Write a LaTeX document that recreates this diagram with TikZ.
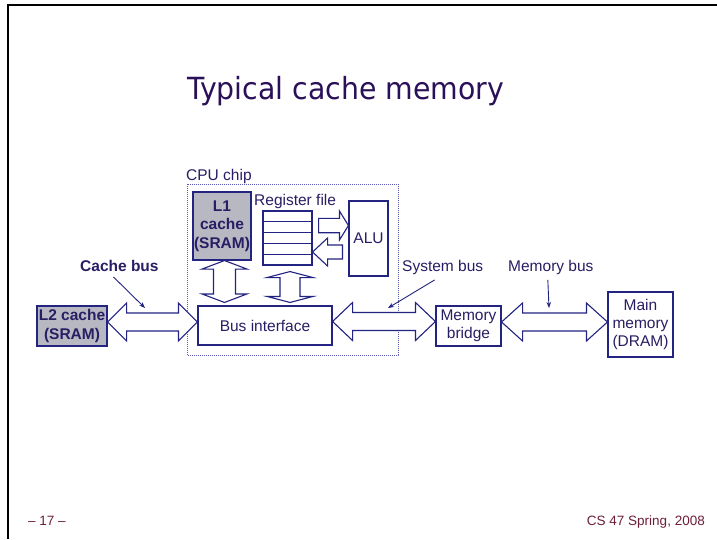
\documentclass[tikz,border=0pt]{standalone}
\usepackage{fontspec}
\setmainfont{Liberation Sans}
\newfontfamily\titlefont[FakeStretch=0.93]{DejaVu Sans}
\usetikzlibrary{calc,arrows.meta}

\definecolor{navyline}{RGB}{35,35,130}
\definecolor{navytext}{RGB}{40,30,100}
\definecolor{titlecol}{RGB}{42,16,88}
\definecolor{cachegray}{RGB}{184,184,194}
\definecolor{footcol}{RGB}{110,30,55}
\definecolor{chipdot}{RGB}{90,90,180}

\tikzset{
  unitbox/.style={draw=navyline, line width=1.1pt, fill=white, inner sep=0pt,
    text=navytext, align=center, font=\fontsize{15.5}{18.3}\selectfont},
  graybox/.style={unitbox, fill=cachegray, font=\fontsize{15.5}{18.3}\selectfont\bfseries},
  lbl/.style={inner sep=0pt, text=navytext, font=\fontsize{15.5}{18.3}\selectfont},
  busarrow/.style={draw=navyline, line width=1.1pt, fill=white, line join=miter},
  pointer/.style={draw=navyline, line width=0.9pt, -{Stealth[length=6pt,width=4.5pt]}},
  footer/.style={inner sep=0pt, text=footcol, font=\fontsize{13.5}{16}\selectfont},
}

% horizontal double-headed block arrow: left tip, right tip, shaft half, head half, head length
\newcommand{\hdouble}[5]{%
  \draw[busarrow] let \p1=#1, \p2=#2 in
    (\x1,\y1) -- (\x1+#5,\y1+#4) -- (\x1+#5,\y1+#3) -- (\x2-#5,\y1+#3) -- (\x2-#5,\y1+#4)
    -- (\x2,\y1) -- (\x2-#5,\y1-#4) -- (\x2-#5,\y1-#3) -- (\x1+#5,\y1-#3) -- (\x1+#5,\y1-#4) -- cycle;}
% vertical double-headed block arrow: top tip, bottom tip, shaft half, head half, head length
\newcommand{\vdouble}[5]{%
  \draw[busarrow] let \p1=#1, \p2=#2 in
    (\x1,\y1) -- (\x1+#4,\y1-#5) -- (\x1+#3,\y1-#5) -- (\x1+#3,\y2+#5) -- (\x1+#4,\y2+#5)
    -- (\x1,\y2) -- (\x1-#4,\y2+#5) -- (\x1-#3,\y2+#5) -- (\x1-#3,\y1-#5) -- (\x1-#4,\y1-#5) -- cycle;}
% single block arrow pointing right: tail, tip, shaft half, head half, head length
\newcommand{\harrowright}[5]{%
  \draw[busarrow] let \p1=#1, \p2=#2 in
    (\x1,\y2+#3) -- (\x2-#5,\y2+#3) -- (\x2-#5,\y2+#4) -- (\x2,\y2) -- (\x2-#5,\y2-#4)
    -- (\x2-#5,\y2-#3) -- (\x1,\y2-#3) -- cycle;}
% single block arrow pointing left: tail, tip, shaft half, head half, head length
\newcommand{\harrowleft}[5]{%
  \draw[busarrow] let \p1=#1, \p2=#2 in
    (\x1,\y2+#3) -- (\x2+#5,\y2+#3) -- (\x2+#5,\y2+#4) -- (\x2,\y2) -- (\x2+#5,\y2-#4)
    -- (\x2+#5,\y2-#3) -- (\x1,\y2-#3) -- cycle;}

\begin{document}
\begin{tikzpicture}[x=1pt,y=-1pt]
\useasboundingbox (0,0) rectangle (717,539);
\fill[white] (0,0) rectangle (717,539);

% slide frame
\draw[black, line width=2pt] (7.7,539) -- (7.7,5.3) -- (717,5.3);

% title
\node[anchor=base west, inner sep=0pt, text=titlecol, font=\titlefont\fontsize{30.5}{34}\selectfont]
  (title) at (187,99) {Typical cache memory};

% CPU chip outline
\draw[chipdot, line width=0.8pt, dash pattern=on 0.8pt off 1.2pt] (187,184) rectangle (398,355);
\node[lbl, anchor=base west] (cpulbl) at (186,180) {CPU chip};

% units
\node[graybox, minimum width=58pt, minimum height=68pt] (l1) at (222,226) {L1\\cache\\(SRAM)};
\node[unitbox, minimum width=39pt, minimum height=75pt] (alu) at (368.5,238.5) {ALU};
\node[unitbox, minimum width=49pt, minimum height=54pt] (regs) at (287.5,238) {};
\foreach \k in {1,...,4}
  \draw[navyline, line width=1.1pt] ($(regs.north west)!\k/5!(regs.south west)$) -- ($(regs.north east)!\k/5!(regs.south east)$);
\node[lbl, anchor=base west] (reglbl) at (254,205.7) {Register file};

\node[unitbox, minimum width=134pt, minimum height=39pt] (busif) at (265,325.5) {Bus interface};
\node[graybox, minimum width=70pt, minimum height=40pt] (l2) at (72,326) {L2 cache\\(SRAM)};
\node[unitbox, minimum width=65pt, minimum height=40pt] (bridge) at (468.5,326) {Memory\\bridge};
\node[unitbox, minimum width=65pt, minimum height=65pt] (mainmem) at (640.5,324.5) {Main\\memory\\(DRAM)};

% register file <-> ALU
\harrowright{([xshift=6pt]regs.east)}{([yshift=13pt]alu.west)}{7.2pt}{14.5pt}{9pt}
\harrowleft{([xshift=-6pt]alu.west)}{([yshift=-14pt]regs.east)}{7pt}{14pt}{15pt}

% on-chip vertical paths
\vdouble{([xshift=2.5pt]l1.south)}{([xshift=-38pt,yshift=3pt]busif.north)}{11pt}{22.5pt}{8.5pt}
\vdouble{([xshift=2.5pt,yshift=-6pt]regs.south)}{([yshift=3pt]busif.north)}{10pt}{23pt}{6pt}

% buses
\hdouble{([yshift=4pt]l2.east)}{([yshift=4pt]busif.west)}{9pt}{19pt}{19pt}
\hdouble{([yshift=4pt]busif.east)}{([yshift=4pt]bridge.west)}{9pt}{19pt}{20pt}
\hdouble{([yshift=4pt]bridge.east)}{([yshift=4pt]mainmem.west)}{9pt}{19pt}{21pt}

% bus labels and pointers
\node[lbl, anchor=base west, font=\fontsize{15.5}{18.3}\selectfont\bfseries] (cblbl) at (80,271.5) {Cache bus};
\node[lbl, anchor=base west] (sblbl) at (402,271.5) {System bus};
\node[lbl, anchor=base west] (mblbl) at (508,271.5) {Memory bus};
\coordinate (cbtip) at (145,308);
\coordinate (sbtip) at (388,308);
\coordinate (mbtip) at (549,308);
\draw[pointer] ([xshift=-6pt,yshift=-5pt]cblbl.south) -- (cbtip);
\draw[pointer] ([xshift=-8pt,yshift=-5pt]sblbl.south) -- (sbtip);
\draw[pointer] ([xshift=-3pt,yshift=-5pt]mblbl.south) -- (mbtip);

% footer
\node[footer, anchor=base west] (pageno) at (28,525) {– 17 –};
\node[footer, anchor=base east] (course) at (705,525) {CS 47 Spring, 2008};
\end{tikzpicture}
\end{document}
